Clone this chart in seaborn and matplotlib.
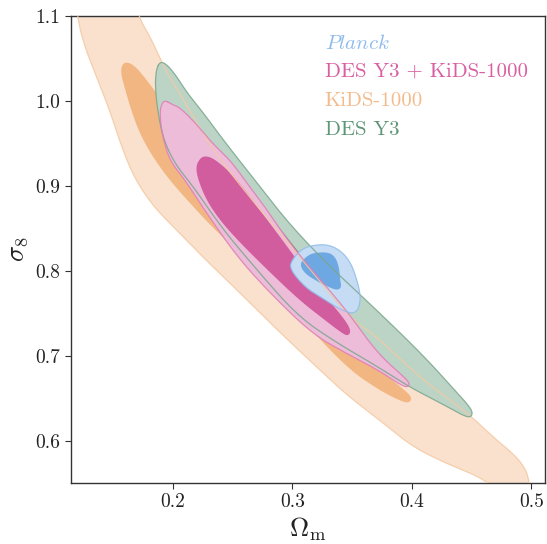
import numpy as np
import matplotlib
matplotlib.use("Agg")
import matplotlib.pyplot as plt
import seaborn as sns

# ---- contour data (Omega_m, sigma_8) ----
kids_outer_om = [0.118, 0.120, 0.125, 0.136, 0.147, 0.156, 0.164, 0.173, 0.186, 0.203, 0.225, 0.248,
                 0.273, 0.298, 0.323, 0.346, 0.373, 0.401, 0.432, 0.457, 0.474, 0.499, 0.498, 0.495,
                 0.486, 0.468, 0.447, 0.409, 0.371, 0.348, 0.306, 0.273, 0.233, 0.214, 0.195, 0.191,
                 0.181, 0.171, 0.167]
kids_outer_s8 = [1.131, 1.099, 1.068, 1.028, 0.989, 0.950, 0.921, 0.897, 0.872, 0.848, 0.816, 0.785,
                 0.750, 0.716, 0.683, 0.653, 0.624, 0.592, 0.571, 0.557, 0.539, 0.539, 0.553, 0.567,
                 0.583, 0.604, 0.632, 0.671, 0.722, 0.744, 0.817, 0.871, 0.942, 0.989, 1.033, 1.045,
                 1.075, 1.099, 1.131]

kids_inner_om = [0.158, 0.156, 0.160, 0.165, 0.172, 0.183, 0.197, 0.212, 0.233, 0.262, 0.287, 0.310,
                 0.346, 0.373, 0.390, 0.397, 0.400, 0.397, 0.373, 0.340, 0.306, 0.273, 0.239, 0.214,
                 0.197, 0.181, 0.171, 0.164]
kids_inner_s8 = [1.045, 1.034, 1.013, 0.989, 0.962, 0.934, 0.907, 0.883, 0.851, 0.813, 0.775, 0.739,
                 0.685, 0.659, 0.647, 0.644, 0.649, 0.656, 0.683, 0.730, 0.783, 0.842, 0.907, 0.954,
                 0.989, 1.019, 1.037, 1.045]

des_outer_om = [0.189, 0.186, 0.185, 0.187, 0.192, 0.202, 0.217, 0.241, 0.269, 0.304, 0.336, 0.369,
                0.398, 0.423, 0.442, 0.449, 0.451, 0.447, 0.436, 0.409, 0.365, 0.331, 0.298, 0.275,
                0.242, 0.227, 0.212, 0.202, 0.194]
des_outer_s8 = [1.046, 1.037, 1.019, 0.989, 0.954, 0.925, 0.899, 0.850, 0.803, 0.747, 0.716, 0.689,
                0.663, 0.645, 0.630, 0.627, 0.633, 0.642, 0.659, 0.701, 0.761, 0.805, 0.854, 0.895,
                0.954, 0.983, 1.009, 1.031, 1.044]

des_inner_om = [0.218, 0.239, 0.260, 0.274, 0.290, 0.305, 0.321, 0.336, 0.340, 0.327, 0.298, 0.264,
                0.235, 0.221, 0.217]
des_inner_s8 = [0.960, 0.930, 0.901, 0.875, 0.849, 0.822, 0.795, 0.765, 0.754, 0.756, 0.795, 0.842,
                0.889, 0.925, 0.948]

joint_outer_om = [0.193, 0.199, 0.206, 0.220, 0.233, 0.248, 0.262, 0.277, 0.290, 0.306, 0.331, 0.348,
                  0.361, 0.375, 0.390, 0.397, 0.398, 0.393, 0.373, 0.346, 0.317, 0.281, 0.254, 0.228,
                  0.210, 0.197, 0.191, 0.189, 0.190]
joint_outer_s8 = [1.001, 0.996, 0.992, 0.972, 0.950, 0.930, 0.903, 0.875, 0.848, 0.818, 0.777, 0.748,
                  0.722, 0.698, 0.679, 0.670, 0.664, 0.663, 0.682, 0.702, 0.725, 0.774, 0.816, 0.868,
                  0.907, 0.930, 0.960, 0.983, 0.995]

joint_inner_om = [0.223, 0.219, 0.221, 0.228, 0.239, 0.254, 0.279, 0.306, 0.327, 0.340, 0.346, 0.349,
                  0.346, 0.336, 0.319, 0.298, 0.273, 0.256, 0.244, 0.233, 0.227]
joint_inner_s8 = [0.933, 0.923, 0.907, 0.883, 0.860, 0.836, 0.801, 0.765, 0.742, 0.728, 0.723, 0.728,
                  0.738, 0.756, 0.783, 0.824, 0.871, 0.903, 0.921, 0.933, 0.935]

planck_outer_om = [0.298, 0.306, 0.316, 0.330, 0.341, 0.349, 0.354, 0.357, 0.356, 0.353, 0.348, 0.338,
                   0.326, 0.313, 0.304, 0.299]
planck_outer_s8 = [0.809, 0.824, 0.830, 0.831, 0.823, 0.809, 0.789, 0.771, 0.758, 0.751, 0.750, 0.756,
                   0.767, 0.778, 0.791, 0.801]

planck_inner_om = [0.306, 0.311, 0.317, 0.330, 0.336, 0.339, 0.340, 0.341, 0.337, 0.330, 0.320, 0.310]
planck_inner_s8 = [0.808, 0.816, 0.821, 0.822, 0.816, 0.804, 0.789, 0.780, 0.777, 0.781, 0.788, 0.797]

labels = [r"$\mathit{Planck}$", "DES Y3 + KiDS-1000", "KiDS-1000", "DES Y3"]
label_colors = ["#8fbbed", "#da5fa2", "#f4bb8c", "#5f9677"]

x_ticks = [0.2, 0.3, 0.4, 0.5]
y_ticks = [0.6, 0.7, 0.8, 0.9, 1.0, 1.1]

# ---- style ----
sns.set_style("ticks")
plt.rcParams["font.family"] = ["cmr10", "DejaVu Serif"]
plt.rcParams["mathtext.fontset"] = "cm"
plt.rcParams["axes.formatter.use_mathtext"] = True
plt.rcParams["axes.unicode_minus"] = False


def chaikin(xs, ys, n=4):
    pts = np.column_stack([xs, ys]).astype(float)
    for _ in range(n):
        q = np.roll(pts, -1, axis=0)
        a = 0.75 * pts + 0.25 * q
        b = 0.25 * pts + 0.75 * q
        new = np.empty((2 * len(pts), 2))
        new[0::2] = a
        new[1::2] = b
        pts = new
    return pts[:, 0], pts[:, 1]


fig = plt.figure(figsize=(5.47, 5.44), dpi=100)
ax = fig.add_axes([71 / 547, 61 / 544, 474 / 547, 467 / 544])

layers = [
    (kids_outer_om, kids_outer_s8, "#f9e1cd", "#f5c9a2"),
    (kids_inner_om, kids_inner_s8, "#f2b683", None),
    (des_outer_om, des_outer_s8, "#bcd4c6", "#79a68b"),
    (des_inner_om, des_inner_s8, "#4e8c68", None),
    (joint_outer_om, joint_outer_s8, "#ecbcd9", "#de7db4"),
    (joint_inner_om, joint_inner_s8, "#d15d9e", None),
    (planck_outer_om, planck_outer_s8, "#c5dcf4", "#92bdea"),
    (planck_inner_om, planck_inner_s8, "#6ea8e3", None),
]

edges = []
for i, (xs, ys, fc, ec) in enumerate(layers):
    sx, sy = chaikin(xs, ys)
    ax.fill(sx, sy, color=fc, lw=0, zorder=1 + i * 0.1)
    if ec is not None:
        edges.append((sx, sy, ec))

for j, (sx, sy, ec) in enumerate(edges):
    cx = np.append(sx, sx[0])
    cy = np.append(sy, sy[0])
    sns.lineplot(x=cx, y=cy, sort=False, estimator=None, ax=ax, color=ec,
                 lw=0.9, alpha=0.85, zorder=3 + j * 0.1)

ax.set_xlim(0.1146, 0.5114)
ax.set_ylim(0.55, 1.1)
ax.set_xticks(x_ticks)
ax.set_yticks(y_ticks)
ax.set_xticklabels([f"{v:.1f}" for v in x_ticks])
ax.set_yticklabels([f"{v:.1f}" for v in y_ticks])
ax.tick_params(labelsize=14, length=4, width=0.8, colors="#333333", labelcolor="#222222")
for s in ax.spines.values():
    s.set_color("#333333")
    s.set_linewidth(1.0)

ax.set_xlabel(r"$\Omega_{\rm m}$", fontsize=19, color="#222222", labelpad=3)
ax.set_ylabel(r"$\sigma_8$", fontsize=19, color="#222222", labelpad=4)

for k, (lab, col) in enumerate(zip(labels, label_colors)):
    ax.text(0.535, 0.942 - k * 0.062, lab, color=col, fontsize=15,
            transform=ax.transAxes, va="center", ha="left", zorder=10)

fig.savefig("out.png", dpi=100)
